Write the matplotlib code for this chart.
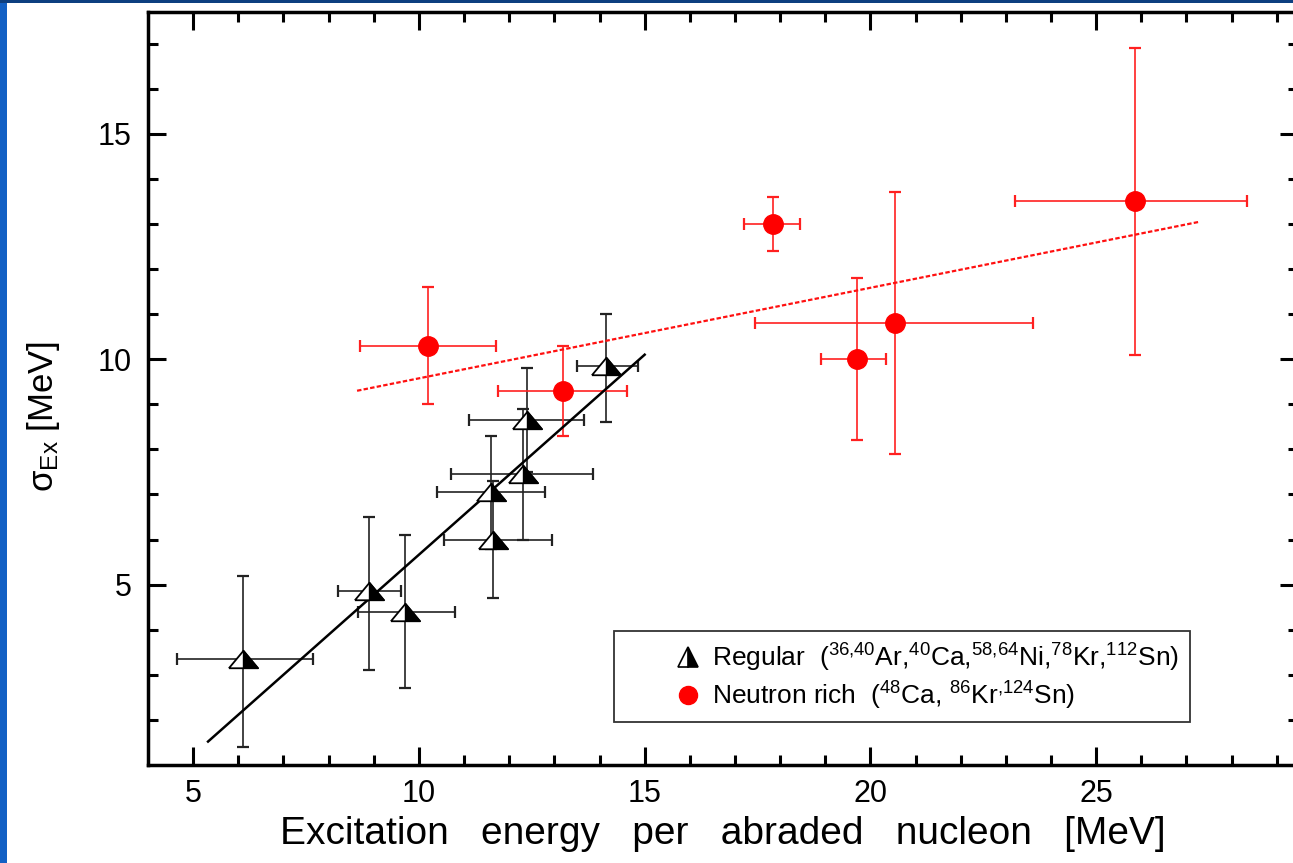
import matplotlib
matplotlib.use("Agg")
import matplotlib.pyplot as plt
from matplotlib.lines import Line2D
from matplotlib.patches import Rectangle
from matplotlib.path import Path
from matplotlib.legend_handler import HandlerLine2D
import numpy as np

plt.rcParams['font.family'] = ['Liberation Sans', 'DejaVu Sans']
plt.rcParams['mathtext.fontset'] = 'custom'
plt.rcParams['mathtext.rm'] = 'Liberation Sans'
plt.rcParams['mathtext.it'] = 'Liberation Sans:italic'

# Regular nuclei (black half-filled triangles)
reg_x = [6.1, 8.9, 9.7, 11.65, 11.6, 12.3, 12.4, 14.15]
reg_y = [3.35, 4.85, 4.4, 6.0, 7.05, 7.45, 8.65, 9.85]
reg_xlo = [4.65, 8.2, 8.65, 10.55, 10.4, 10.7, 11.1, 13.5]
reg_xhi = [7.65, 9.6, 10.8, 12.95, 12.8, 13.85, 13.65, 14.85]
reg_ylo = [1.4, 3.1, 2.7, 4.7, 5.8, 6.0, 7.5, 8.6]
reg_yhi = [5.2, 6.5, 6.1, 7.3, 8.3, 8.9, 9.8, 11.0]

# Neutron rich nuclei (red circles)
nr_x = [10.2, 13.2, 17.85, 19.7, 20.55, 25.85]
nr_y = [10.3, 9.3, 13.0, 10.0, 10.8, 13.5]
nr_xlo = [8.7, 11.75, 17.2, 18.9, 17.45, 23.2]
nr_xhi = [11.7, 14.6, 18.45, 20.35, 23.6, 28.35]
nr_ylo = [9.0, 8.3, 12.4, 8.2, 7.9, 10.1]
nr_yhi = [11.6, 10.3, 13.6, 11.8, 13.7, 16.9]

# Linear fits
fit_reg_x = [5.33, 15.0]
fit_reg_y = [1.52, 10.1]
fit_nr_x = [8.63, 27.3]
fit_nr_y = [9.3, 13.05]

xticks = [5, 10, 15, 20, 25]
yticks = [5, 10, 15]

fig = plt.figure(figsize=(12.93, 8.63), dpi=100)
# blue slide border
fig.patches.append(Rectangle((0, 0), 7/1293, 1, transform=fig.transFigure,
                             facecolor='#1260c4', edgecolor='none', zorder=0))
fig.patches.append(Rectangle((0, 1 - 3/863), 1, 3/863, transform=fig.transFigure,
                             facecolor='#0d3f80', edgecolor='none', zorder=0))

ax = fig.add_axes([148/1293, (863-765)/863, 1150/1293, 753/863])

def asym(v, lo, hi):
    v = np.array(v); return [v - np.array(lo), np.array(hi) - v]

ax.errorbar(reg_x, reg_y, xerr=asym(reg_x, reg_xlo, reg_xhi),
            yerr=asym(reg_y, reg_ylo, reg_yhi), fmt='none', ecolor='#222222',
            elinewidth=1.2, capsize=4, capthick=1.6, zorder=2)
ax.errorbar(nr_x, nr_y, xerr=asym(nr_x, nr_xlo, nr_xhi),
            yerr=asym(nr_y, nr_ylo, nr_yhi), fmt='none', ecolor='#ff2020',
            elinewidth=1.2, capsize=4, capthick=1.6, zorder=2)

ax.plot(fit_reg_x, fit_reg_y, color='black', lw=1.8, zorder=3)
ax.plot(fit_nr_x, fit_nr_y, color='#ff1010', lw=1.6, ls=(0, (2, 1)), zorder=3)

tri_full = [(-1, -0.6), (1, -0.6), (0, 0.6), (-1, -0.6)]
# right half; the extra MOVETO points keep the same normalisation as the full triangle
tri_half_m = Path([(0, -0.6), (1, -0.6), (0, 0.6), (0, -0.6), (-1, -1), (-1, -1)],
                  [1, 2, 2, 79, 1, 1])

ax.plot(reg_x, reg_y, ls='none', marker=tri_full, ms=21, mfc='white',
        mec='black', mew=1.3, zorder=4)
ax.plot(reg_x, reg_y, ls='none', marker=tri_half_m, ms=21, mfc='black',
        mec='black', mew=1.0, zorder=5)
ax.plot(nr_x, nr_y, ls='none', marker='o', ms=14, mfc='#ff0000',
        mec='#ff0000', zorder=4)

ax.set_xlim(4.0, 29.47)
ax.set_ylim(1.0, 17.7)
ax.set_xticks(xticks)
ax.set_yticks(yticks)
ax.set_xticks(np.arange(5, 30, 1), minor=True)
ax.set_yticks(np.arange(2, 18, 1), minor=True)
ax.tick_params(which='both', direction='in', top=True, right=True, width=2.2,
               labelsize=22)
ax.tick_params(which='major', length=13)
ax.tick_params(which='minor', length=7)
ax.tick_params(axis='x', pad=10)
ax.tick_params(axis='y', pad=12)
for s in ax.spines.values():
    s.set_linewidth(2.5)

ax.set_xlabel('Excitation   energy   per   abraded   nucleon   [MeV]', fontsize=28, labelpad=5)
ax.set_ylabel('σ$_{\\rm Ex}$ [MeV]', fontsize=25)
ax.yaxis.set_label_coords(-0.075, 0.463)


class RightMarkerHandler(HandlerLine2D):
    def get_xdata(self, legend, xdescent, ydescent, width, height, fontsize):
        m = -xdescent + width - 0.78 * fontsize
        return np.array([m - 1.0, m + 1.0]), np.array([m])


h1 = Line2D([], [], ls='none', marker='^', ms=15, fillstyle='right',
            mfc='black', mfcalt='white', mec='black', mew=1.2)
h2 = Line2D([], [], ls='none', marker='o', ms=13, mfc='#ff0000', mec='#ff0000')
leg = ax.legend([h1, h2],
                ['Regular  ($^{36{,}40}$Ar,$^{40}$Ca,$^{58{,}64}$Ni,$^{78}$Kr,$^{112}$Sn)',
                 'Neutron rich  ($^{48}$Ca, $^{86}$Kr$^{{,}124}$Sn)'],
                loc='lower left', bbox_to_anchor=((614-148)/1150, 0.057), borderaxespad=0,
                fontsize=19, frameon=True, fancybox=False, handlelength=3.2,
                handletextpad=0.13, borderpad=0.4, labelspacing=0.2,
                handler_map={Line2D: RightMarkerHandler()})
leg.get_frame().set_edgecolor('black')
leg.get_frame().set_linewidth(1.3)

fig.savefig('out.png', dpi=100)
